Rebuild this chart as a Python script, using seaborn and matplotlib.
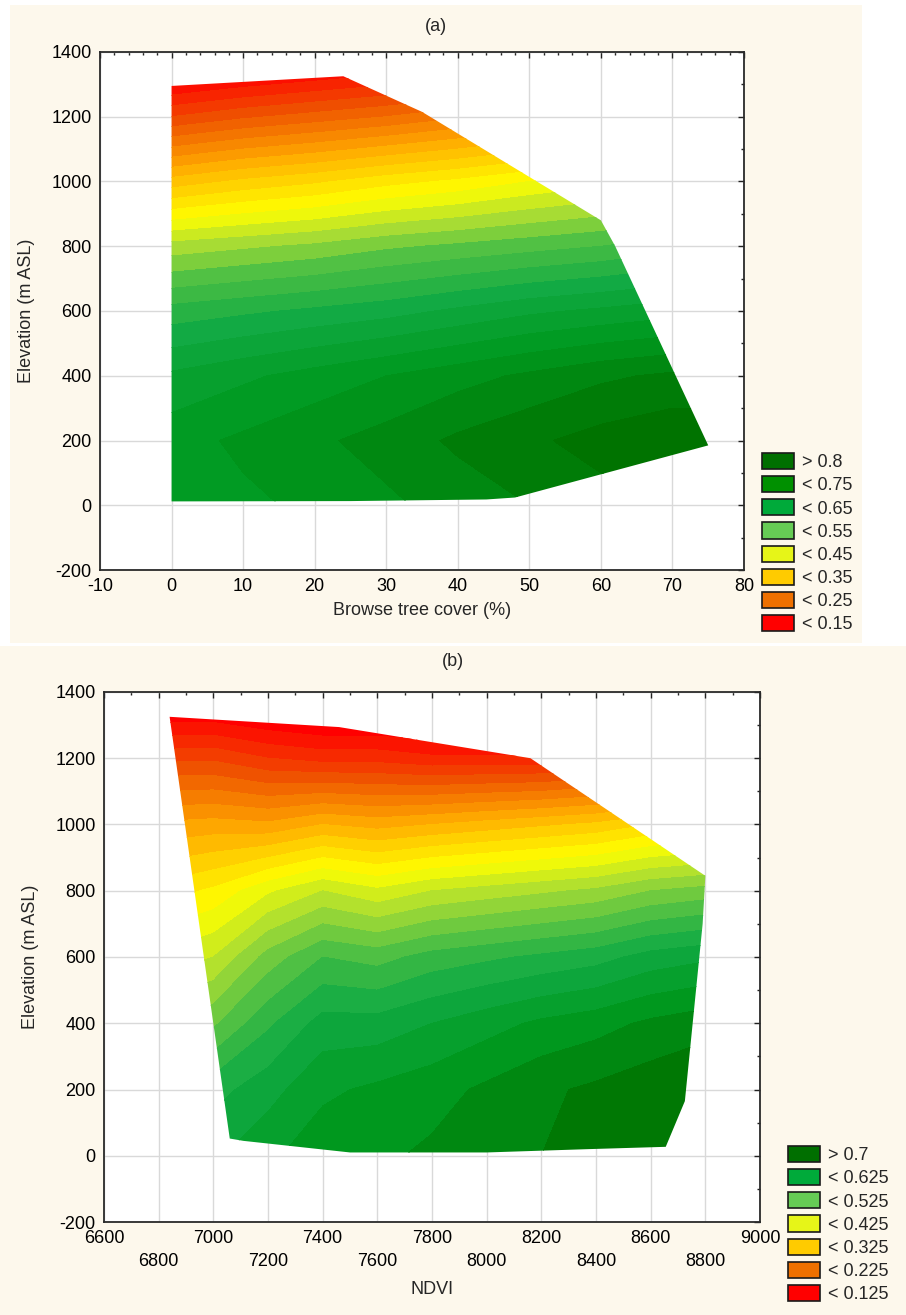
"""Browse tree cover / NDVI vs elevation response surfaces, two panels."""
from __future__ import annotations

import matplotlib

matplotlib.use("Agg")
import matplotlib.pyplot as plt
import numpy as np
import seaborn as sns
from matplotlib.colors import LinearSegmentedColormap
from matplotlib.patches import Patch, Polygon, Rectangle
from matplotlib.ticker import MultipleLocator

OUT_PATH = "out.png"

# ---- panel (a): browse tree cover (%) x elevation ----
COVER = [0, 10, 20, 30, 40, 50, 60, 70, 80]
ELEV_A = [0, 200, 400, 600, 800, 1000, 1200, 1400]
Z_A = [
    [0.71, 0.72, 0.73, 0.745, 0.76, 0.775, 0.79, 0.80, 0.80],
    [0.715, 0.73, 0.745, 0.76, 0.78, 0.795, 0.81, 0.82, 0.82],
    [0.68, 0.695, 0.71, 0.725, 0.74, 0.755, 0.77, 0.78, 0.78],
    [0.61, 0.62, 0.63, 0.64, 0.655, 0.67, 0.68, 0.69, 0.70],
    [0.51, 0.52, 0.53, 0.545, 0.555, 0.565, 0.575, 0.59, 0.60],
    [0.36, 0.38, 0.395, 0.415, 0.43, 0.45, 0.465, 0.48, 0.495],
    [0.20, 0.22, 0.235, 0.25, 0.27, 0.29, 0.305, 0.32, 0.34],
    [0.05, 0.065, 0.08, 0.095, 0.11, 0.13, 0.15, 0.16, 0.18],
]
HULL_A_X = [0, 24, 35, 60, 62, 75, 48, 44, 25, 0]
HULL_A_Y = [1295, 1325, 1215, 880, 800, 185, 24, 18, 13, 12]
LEGEND_A = ["> 0.8", "< 0.75", "< 0.65", "< 0.55", "< 0.45", "< 0.35", "< 0.25", "< 0.15"]
LEGEND_A_COLORS = ["#006F00", "#009000", "#00AA3A", "#66CC55", "#E6F518", "#FFCB00", "#EE7000", "#FF0000"]

# ---- panel (b): NDVI x elevation ----
NDVI = [6800, 7000, 7200, 7400, 7600, 7800, 8000, 8200, 8400, 8600, 8800]
ELEV_B = [0, 200, 400, 600, 800, 1000, 1200, 1400]
Z_B = [
    [0.61, 0.62, 0.645, 0.665, 0.67, 0.68, 0.69, 0.70, 0.71, 0.72, 0.73],
    [0.57, 0.59, 0.615, 0.645, 0.655, 0.665, 0.68, 0.695, 0.705, 0.715, 0.725],
    [0.50, 0.52, 0.57, 0.61, 0.61, 0.625, 0.64, 0.655, 0.665, 0.68, 0.69],
    [0.43, 0.45, 0.51, 0.55, 0.54, 0.56, 0.57, 0.58, 0.59, 0.61, 0.62],
    [0.36, 0.38, 0.42, 0.45, 0.43, 0.45, 0.46, 0.47, 0.48, 0.50, 0.51],
    [0.28, 0.285, 0.28, 0.30, 0.29, 0.30, 0.31, 0.32, 0.33, 0.35, 0.36],
    [0.17, 0.17, 0.15, 0.14, 0.14, 0.13, 0.13, 0.13, 0.14, 0.15, 0.16],
    [0.04, 0.04, 0.03, 0.02, 0.02, 0.02, 0.01, 0.01, 0.01, 0.02, 0.03],
]
HULL_B_X = [6840, 7460, 8160, 8800, 8790, 8725, 8655, 8370, 8000, 7500, 7110, 7060]
HULL_B_Y = [1325, 1294, 1200, 845, 700, 165, 27, 20, 10, 10, 45, 52]
LEGEND_B = ["> 0.7", "< 0.625", "< 0.525", "< 0.425", "< 0.325", "< 0.225", "< 0.125"]
LEGEND_B_COLORS = ["#006F00", "#00AA3A", "#66CC55", "#E6F518", "#FFCB00", "#EE7000", "#FF0000"]

# colour ramps (value -> colour), red at low suitability, dark green at high
RAMP_COLORS = ["#FF0000", "#FF0000", "#EE5500", "#FFAA00", "#FFFF00", "#AADD33",
               "#55C244", "#11AA44", "#009A20", "#007400", "#006800"]
RAMP_A = [0.0, 0.12, 0.22, 0.33, 0.45, 0.51, 0.56, 0.64, 0.72, 0.81, 0.9]
RAMP_B = [0.0, 0.09, 0.19, 0.29, 0.40, 0.47, 0.53, 0.60, 0.66, 0.72, 0.9]

BEIGE = "#FDF8EC"
FS = 13


def make_cmap(stops):
    vmax = stops[-1]
    return LinearSegmentedColormap.from_list(
        "suit", [(s / vmax, c) for s, c in zip(stops, RAMP_COLORS)])


def style_axes(ax):
    ax.set_facecolor("white")
    ax.set_axisbelow(True)
    ax.grid(True, which="major", color="#D9D9D9", linewidth=1.0)
    ax.tick_params(which="both", direction="in", top=True, right=True,
                   colors="#222222", labelcolor="black", labelsize=FS)
    ax.tick_params(which="major", length=4, width=1.0, pad=6)
    ax.tick_params(which="minor", length=2.5, width=1.0)
    for sp in ax.spines.values():
        sp.set_color("#2A2A2A")
        sp.set_linewidth(1.3)


def draw_surface(ax, x, y, z, hull_x, hull_y, stops):
    levels = np.arange(0.0, 0.925, 0.025)
    cs = ax.contourf(x, y, z, levels=levels, cmap=make_cmap(stops),
                     vmin=0.0, vmax=stops[-1], zorder=2, antialiased=False)
    hull = Polygon(np.column_stack([hull_x, hull_y]), closed=True,
                   facecolor="none", edgecolor="none", transform=ax.transData)
    ax.add_patch(hull)
    cs.set_clip_path(hull)


def add_legend(fig, labels, colors, anchor):
    handles = [Patch(facecolor=c, edgecolor="#1A1A1A", linewidth=1.2) for c in colors]
    fig.legend(handles, labels, loc="upper left", bbox_to_anchor=anchor,
               frameon=False, fontsize=FS, handlelength=1.75, handleheight=1.0,
               labelspacing=0.27, handletextpad=0.45, borderpad=0, borderaxespad=0)


def main() -> None:
    sns.set_theme(style="white")
    plt.rcParams["font.family"] = ["Liberation Sans", "DejaVu Sans"]
    plt.rcParams["axes.unicode_minus"] = False

    fig = plt.figure(figsize=(9.06, 13.15), dpi=100, facecolor="white")
    fig.patches.append(Rectangle((0.011, 0.511), 0.940, 0.485, transform=fig.transFigure,
                                 facecolor=BEIGE, edgecolor="none", zorder=-10))
    fig.patches.append(Rectangle((0.0, 0.0), 1.0, 0.509, transform=fig.transFigure,
                                 facecolor=BEIGE, edgecolor="none", zorder=-10))

    # (a)
    ax_a = fig.add_axes([0.1104, 0.5665, 0.7108, 0.394])
    style_axes(ax_a)
    draw_surface(ax_a, COVER, ELEV_A, Z_A, HULL_A_X, HULL_A_Y, RAMP_A)
    ax_a.set_xlim(-10, 80)
    ax_a.set_ylim(-200, 1400)
    ax_a.xaxis.set_major_locator(MultipleLocator(10))
    ax_a.xaxis.set_minor_locator(MultipleLocator(2))
    ax_a.yaxis.set_major_locator(MultipleLocator(200))
    ax_a.yaxis.set_minor_locator(MultipleLocator(100))
    ax_a.set_xlabel("Browse tree cover (%)", fontsize=FS, labelpad=5)
    ax_a.set_ylabel("Elevation (m ASL)", fontsize=FS, labelpad=12)
    fig.text(0.481, 0.9795, "(a)", ha="center", va="center", fontsize=FS)
    add_legend(fig, LEGEND_A, LEGEND_A_COLORS, (0.841, 0.6555))

    # (b)
    ax_b = fig.add_axes([0.1148, 0.0707, 0.7241, 0.4031])
    style_axes(ax_b)
    draw_surface(ax_b, NDVI, ELEV_B, Z_B, HULL_B_X, HULL_B_Y, RAMP_B)
    ax_b.set_xlim(6600, 9000)
    ax_b.set_ylim(-200, 1400)
    ax_b.xaxis.set_minor_locator(MultipleLocator(100))
    ax_b.yaxis.set_major_locator(MultipleLocator(200))
    ax_b.yaxis.set_minor_locator(MultipleLocator(100))
    xt = np.arange(6600, 9001, 200)
    ax_b.set_xticks(xt)
    ax_b.set_xticklabels([f"{v}" if i % 2 == 0 else f"\n{v}" for i, v in enumerate(xt)],
                         linespacing=1.4)
    ax_b.set_xlabel("NDVI", fontsize=FS, labelpad=8)
    ax_b.set_ylabel("Elevation (m ASL)", fontsize=FS, labelpad=12)
    fig.text(0.5, 0.4966, "(b)", ha="center", va="center", fontsize=FS)
    add_legend(fig, LEGEND_B, LEGEND_B_COLORS, (0.8698, 0.1285))

    fig.savefig(OUT_PATH, dpi=100, facecolor=fig.get_facecolor())
    plt.close(fig)


if __name__ == "__main__":
    main()
